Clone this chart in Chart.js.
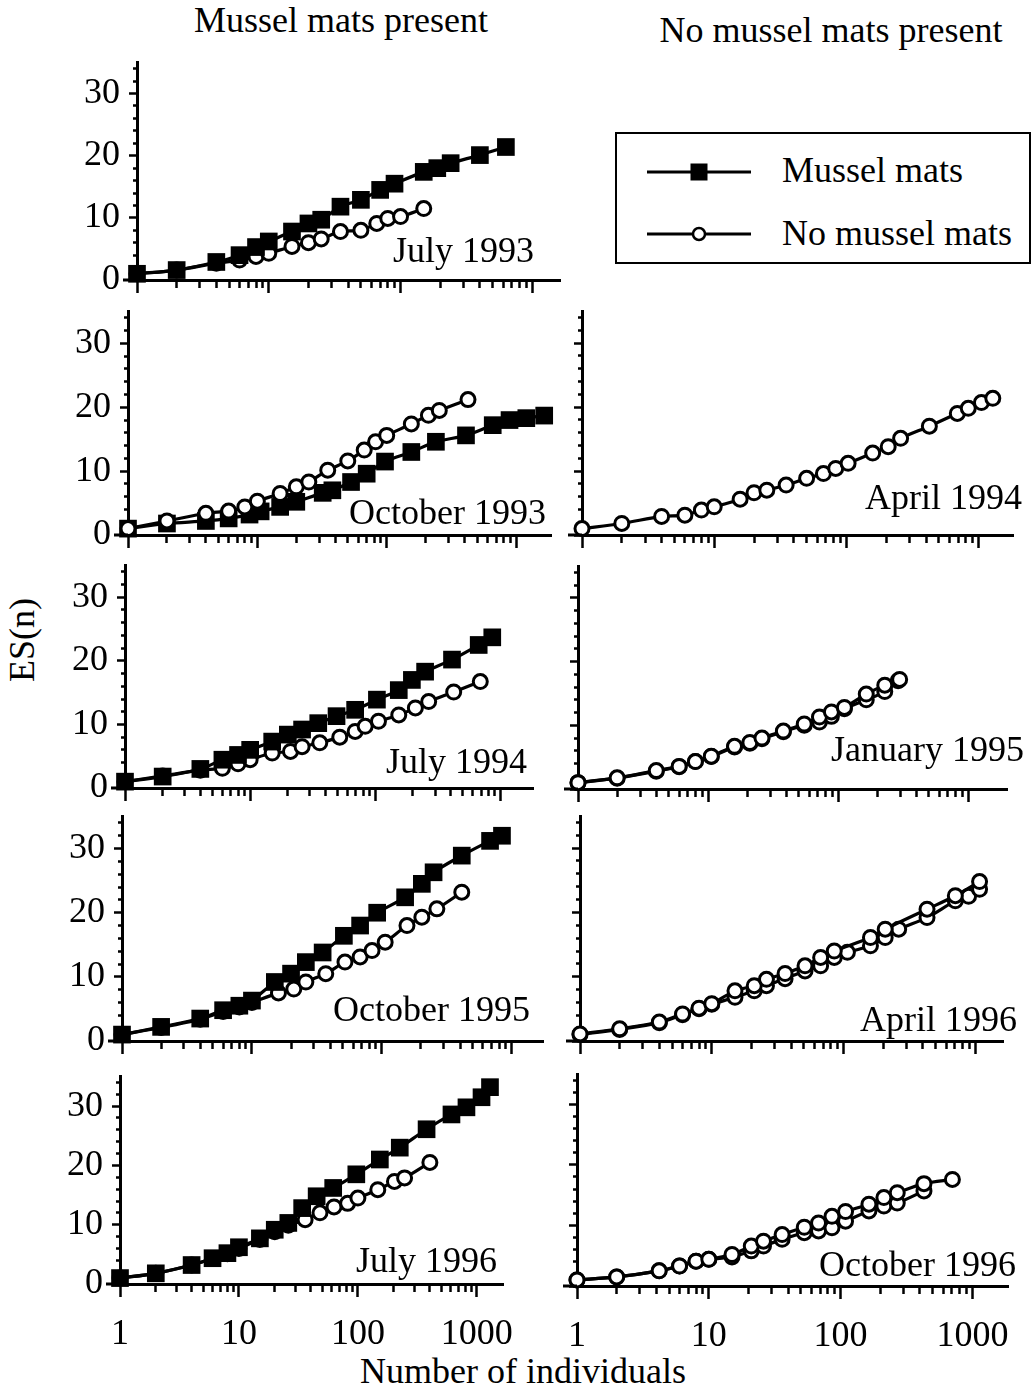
<!DOCTYPE html>
<html lang="en">
<head>
<meta charset="UTF-8">
<title>ES(n) rarefaction curves</title>
<script src="https://cdn.jsdelivr.net/npm/chart.js"></script>
<style>
  body { margin: 0; background: #fff; }
  #fig {
    position: relative;
    width: 1032px;
    height: 1389px;
    overflow: hidden;
    font-family: 'Liberation Serif', 'Times New Roman', serif;
    color: #000;
  }
  #fig canvas { position: absolute; }
  .txt { position: absolute; white-space: nowrap; font-size: 36px; line-height: 36px; }
  .mid { transform: translate(-50%, -50%); }
  #ylab { transform: translate(-50%, -50%) rotate(-90deg); }
  #legend {
    position: absolute;
    left: 615px; top: 132px;
    width: 412px; height: 128px;
    border: 2.5px solid #000;
  }
  #legend svg { position: absolute; left: 30px; }
  #legend .txt { left: 165px; }
</style>
</head>
<body>
<div id="fig">
  <div class="txt mid" style="left:341px; top:20px;">Mussel mats present</div>
  <div class="txt mid" style="left:831px; top:30px;">No mussel mats present</div>
  <div class="txt" id="ylab" style="left:22px; top:640px;">ES(n)</div>
  <div class="txt mid" style="left:523px; top:1371px;">Number of individuals</div>
  <div id="legend">
    <svg width="106" height="24" style="top:26px;">
      <line x1="0" y1="12" x2="104" y2="12" stroke="#000" stroke-width="3"/>
      <rect x="43.5" y="3.5" width="17" height="17" fill="#000"/>
    </svg>
    <div class="txt" style="top:18px;">Mussel mats</div>
    <svg width="106" height="24" style="top:88px;">
      <line x1="0" y1="12" x2="104" y2="12" stroke="#000" stroke-width="3"/>
      <circle cx="52" cy="12" r="6" fill="#fff" stroke="#000" stroke-width="2.5"/>
    </svg>
    <div class="txt" style="top:81px;">No mussel mats</div>
  </div>
</div>

<script>
    // ES(n): [number of individuals, expected species]
    const jul93Mats = [[1,1.0],[2,1.6],[4,2.9],[6,4.0],[8,5.3],[10,6.2],[15,7.8],[20,9.1],[25,9.7],[35,11.8],[50,12.9],[70,14.5],[90,15.5],[150,17.4],[190,18.0],[240,18.8],[400,20.1],[630,21.4]];
    const jul93NoMats = [[1,1.0],[2,1.6],[4,2.7],[6,3.2],[8,3.8],[10,4.3],[15,5.4],[20,6.0],[25,6.6],[35,7.8],[50,8.0],[66,9.1],[80,9.9],[100,10.2],[150,11.5]];

    const oct93Mats = [[1,1.0],[2,1.8],[4,2.2],[6,2.6],[8.7,3.2],[10.6,3.7],[15,4.4],[20,5.2],[32,6.6],[38,7.0],[53,8.3],[70,9.6],[97,11.5],[155,13.0],[240,14.6],[410,15.6],[660,17.2],[890,18.0],[1200,18.3],[1650,18.7]];
    const oct93NoMats = [[1,1.0],[2,2.2],[4,3.4],[6,3.75],[8,4.4],[10,5.3],[15,6.5],[20,7.55],[25,8.3],[35,10.15],[50,11.6],[67,13.3],[82,14.6],[100,15.6],[155,17.4],[210,18.75],[255,19.5],[425,21.2]];

    const apr94Site = [[1,1.0],[2,1.8],[4,2.9],[6,3.1],[8,3.9],[10,4.4],[15.7,5.6],[20,6.6],[25,7.0],[35,7.8],[50,8.85],[67,9.6],[83,10.4],[103,11.2],[158,12.8],[207,13.8],[257,15.1],[424,17.0],[690,19.0],[835,19.8],[1050,20.7],[1280,21.35]];

    const jul94Mats = [[1,1.0],[2,1.8],[4,3.0],[6,4.45],[8,5.2],[10,6.0],[15,7.3],[20,8.4],[26,9.2],[35,10.2],[49,11.3],[69,12.3],[103,13.9],[154,15.4],[196,17.0],[250,18.3],[410,20.2],[670,22.5],[860,23.7]];
    const jul94NoMats = [[1,1.0],[2,1.9],[4,2.8],[6,3.1],[8,3.8],[10,4.45],[15,5.5],[21,5.75],[26,6.5],[36,7.1],[52,8.0],[69,8.9],[83,9.7],[106,10.5],[154,11.5],[209,12.6],[267,13.6],[423,15.1],[690,16.75]];

    const jan95SiteA = [[1,1.0],[2,1.75],[4,2.9],[6,3.55],[8,4.3],[10.6,5.15],[16,6.7],[21,7.3],[26,8.0],[38,9.1],[55,10.2],[72,11.3],[89,12.1],[112,12.8],[165,14.9],[229,16.3],[298,17.2]];
    const jan95SiteB = [[1,1.0],[2,1.7],[4,2.8],[6,3.5],[8,4.3],[10.6,5.1],[16,6.6],[21,7.2],[26,7.9],[38,9.0],[55,10.0],[72,10.5],[89,11.4],[112,12.6],[165,14.0],[229,15.3],[290,17.0]];

    const oct95Mats = [[1,1.0],[2,2.2],[4,3.5],[6,4.8],[8,5.5],[10,6.3],[15,9.2],[20,10.5],[26,12.3],[35,13.8],[51,16.4],[68,18.0],[92,20.0],[151,22.4],[203,24.5],[250,26.3],[412,28.9],[680,31.2],[840,32.0]];
    const oct95NoMats = [[1,1.0],[2,2.1],[4,3.4],[6,4.6],[8,5.3],[10,6.0],[16,7.5],[21,8.1],[26,9.2],[37,10.5],[52,12.3],[68,13.1],[84,14.1],[106,15.4],[156,18.0],[203,19.3],[265,20.6],[412,23.2]];

    const apr96SiteA = [[1,1.1],[2,1.9],[4,2.95],[6,4.2],[8,5.1],[10,5.8],[15,7.8],[21,8.6],[26,9.6],[36,10.5],[51,11.7],[67,13.0],[85,14.0],[160,16.1],[207,17.4],[430,20.5],[705,22.6],[1077,24.8]];
    const apr96SiteB = [[1,1.0],[2,1.8],[4,2.85],[6,4.1],[8,5.0],[10,5.7],[15,6.8],[21,7.8],[26,8.6],[36,9.7],[51,10.9],[67,11.7],[85,13.0],[107,13.8],[160,14.8],[207,16.1],[262,17.4],[430,19.2],[705,21.8],[889,22.5],[1077,23.6]];

    const jul96Mats = [[1,1.0],[2,1.8],[4,3.2],[6,4.35],[8,5.2],[10,6.2],[15,7.7],[20,9.15],[26,10.3],[34,12.8],[45,14.8],[62,16.2],[97,18.5],[153,21.0],[225,23.0],[378,26.1],[612,28.6],[818,29.8],[1095,31.5],[1290,33.2]];
    const jul96NoMats = [[1,1.0],[2,1.8],[4,3.2],[6,4.3],[8,5.1],[10,6.0],[15,7.5],[20,8.8],[26,9.9],[36,10.85],[48,12.0],[63,13.0],[82,13.6],[100,14.5],[147,15.9],[203,17.3],[247,17.9],[403,20.5]];

    const oct96SiteA = [[1,1.0],[2,1.5],[4.2,2.5],[6,3.3],[8,4.1],[10,4.4],[15,5.2],[21,6.6],[26,7.4],[36,8.5],[53,9.7],[68,10.4],[86,11.5],[109,12.3],[164,13.5],[213,14.6],[269,15.4],[429,16.9],[705,17.6]];
    const oct96SiteB = [[1,1.0],[2,1.5],[4.2,2.5],[6,3.3],[8,4.1],[10,4.4],[15,4.8],[21,5.8],[26,6.6],[36,7.7],[53,8.8],[68,9.1],[86,9.6],[109,10.7],[164,12.4],[213,13.2],[269,13.7],[429,15.7]];

    // axis ticks
    const xTickValues = [1,2,3,4,5,6,7,8,9,10,20,30,40,50,60,70,80,90,100,200,300,400,500,600,700,800,900,1000,2000];
    const xTickLabels = [1, 10, 100, 1000];
    const yTickValues = [0,2,4,6,8,10,12,14,16,18,20,22,24,26,28,30,32,34];
    const yTickLabels = [0, 10, 20, 30];

    const FONT = "'Liberation Serif', 'Times New Roman', serif";

    // where each panel sits on the page: x1 = pixel of n=1, dec = pixels per decade,
    // y0 = pixel of ES=0, p10 = pixels per 10 species, xEnd = log10 of the axis end
    const panels = [
        {label: 'July 1993', lx: 534, ly: 250, x1: 137, dec: 131.7, y0: 280, p10: 62.2, xEnd: 3.21, yLab: true, xLab: false,
            series: [[jul93Mats, 'mats'], [jul93NoMats, 'open']]},
        {label: 'October 1993', lx: 546, ly: 512, x1: 128.3, dec: 129.4, y0: 535, p10: 64, xEnd: 3.27, yLab: true, xLab: false,
            series: [[oct93NoMats, 'open'], [oct93Mats, 'mats']]},
        {label: 'April 1994', lx: 1022, ly: 497, x1: 581.7, dec: 132.2, y0: 535, p10: 64, xEnd: 3.26, yLab: false, xLab: false,
            series: [[apr94Site, 'open']]},
        {label: 'July 1994', lx: 527, ly: 761, x1: 125, dec: 125, y0: 788.3, p10: 63.7, xEnd: 3.26, yLab: true, xLab: false,
            series: [[jul94Mats, 'mats'], [jul94NoMats, 'open']]},
        {label: 'January 1995', lx: 1024, ly: 749, x1: 578.3, dec: 130, y0: 789, p10: 63.7, xEnd: 3.30, yLab: false, xLab: false,
            series: [[jan95SiteA, 'open'], [jan95SiteB, 'open']]},
        {label: 'October 1995', lx: 530, ly: 1009, x1: 121.7, dec: 130, y0: 1040.7, p10: 64.3, xEnd: 3.24, yLab: true, xLab: false,
            series: [[oct95Mats, 'mats'], [oct95NoMats, 'open']]},
        {label: 'April 1996', lx: 1017, ly: 1019, x1: 580, dec: 131.7, y0: 1041, p10: 64.3, xEnd: 3.21, yLab: false, xLab: false,
            series: [[apr96SiteA, 'open'], [apr96SiteB, 'open']]},
        {label: 'July 1996', lx: 497, ly: 1260, x1: 120, dec: 118.9, y0: 1284, p10: 59.5, xEnd: 3.22, yLab: true, xLab: true,
            series: [[jul96Mats, 'mats'], [jul96NoMats, 'open']]},
        {label: 'October 1996', lx: 1016, ly: 1264, x1: 576.7, dec: 131.7, y0: 1286.7, p10: 60.7, xEnd: 3.27, yLab: false, xLab: true,
            series: [[oct96SiteA, 'open'], [oct96SiteB, 'open']]}
    ];

    const markerStyles = {
        mats: {pointStyle: 'rect', pointRadius: 12.5, pointBackgroundColor: '#000', pointBorderColor: '#000', pointBorderWidth: 0},
        open: {pointStyle: 'circle', pointRadius: 7, pointBackgroundColor: '#fff', pointBorderColor: '#000', pointBorderWidth: 3}
    };

    const isDecade = v => Math.abs(Math.log10(v) - Math.round(Math.log10(v))) < 1e-9;

    // x axis in the figure pokes a little to the left of the y axis
    const axisStub = {
        id: 'axisStub',
        afterDraw(chart) {
            const {ctx, chartArea} = chart;
            ctx.save();
            ctx.strokeStyle = '#000';
            ctx.lineWidth = 3;
            ctx.beginPath();
            ctx.moveTo(chartArea.left - 14, chartArea.bottom);
            ctx.lineTo(chartArea.left, chartArea.bottom);
            ctx.stroke();
            ctx.restore();
        }
    };

    const fig = document.getElementById('fig');
    const ML = 80, MR = 16, MT = 12;

    panels.forEach(p => {
        const MB = p.xLab ? 72 : 26;
        const areaW = p.xEnd * p.dec;
        const areaH = 3.5 * p.p10;
        const left = Math.round(p.x1 - ML);
        const top = Math.round(p.y0 - areaH - MT);
        const W = Math.round(ML + areaW + MR);
        const H = Math.round(MT + areaH + MB);

        const canvas = document.createElement('canvas');
        canvas.width = W;
        canvas.height = H;
        canvas.style.left = left + 'px';
        canvas.style.top = top + 'px';
        canvas.style.width = W + 'px';
        canvas.style.height = H + 'px';
        fig.appendChild(canvas);

        const tag = document.createElement('div');
        tag.className = 'txt';
        tag.textContent = p.label;
        tag.style.right = (1032 - p.lx) + 'px';
        tag.style.top = (p.ly - 18) + 'px';
        fig.appendChild(tag);

        const datasets = p.series.map(([pts, kind]) => Object.assign({
            data: pts.map(([n, es]) => ({x: n, y: es})),
            showLine: true,
            borderColor: '#000',
            borderWidth: 3.2,
            tension: 0.3,
            clip: false
        }, markerStyles[kind]));

        new Chart(canvas.getContext('2d'), {
            type: 'scatter',
            data: {datasets: datasets},
            options: {
                responsive: false,
                animation: false,
                events: [],
                layout: {padding: {top: MT, right: MR, left: 0, bottom: 0}},
                plugins: {legend: {display: false}, tooltip: {enabled: false}},
                scales: {
                    x: {
                        type: 'logarithmic',
                        position: 'bottom',
                        min: 1,
                        max: Math.pow(10, p.xEnd),
                        afterBuildTicks: s => { s.ticks = xTickValues.filter(v => v <= s.max).map(v => ({value: v})); },
                        afterFit: s => { s.height = MB; s.paddingLeft = 0; s.paddingRight = 0; },
                        ticks: {
                            autoSkip: false, maxRotation: 0, minRotation: 0, padding: 16, color: '#000',
                            font: {family: FONT, size: 36},
                            callback: v => (p.xLab && xTickLabels.includes(v)) ? String(v) : ''
                        },
                        grid: {
                            display: true, drawOnChartArea: false, drawTicks: true,
                            tickLength: 13, tickWidth: 2.5, tickColor: '#000',
                            tickBorderDash: c => isDecade(c.tick.value) ? [] : [6, 100]
                        },
                        border: {display: true, color: '#000', width: 3}
                    },
                    y: {
                        type: 'linear',
                        min: 0,
                        max: 35,
                        afterBuildTicks: s => { s.ticks = yTickValues.map(v => ({value: v})); },
                        afterFit: s => { s.width = ML; s.paddingTop = 0; s.paddingBottom = 0; },
                        ticks: {
                            autoSkip: false, padding: 9, color: '#000',
                            font: {family: FONT, size: 36},
                            callback: v => (p.yLab && yTickLabels.includes(v)) ? String(v) : ''
                        },
                        grid: {
                            display: true, drawOnChartArea: false, drawTicks: true,
                            tickLength: 8, tickWidth: 2.5, tickColor: '#000',
                            tickBorderDash: c => (c.tick.value % 10 === 0) ? [] : [0, 4, 4, 100]
                        },
                        border: {display: true, color: '#000', width: 3}
                    }
                }
            },
            plugins: [axisStub]
        });
    });
</script>
</body>
</html>
